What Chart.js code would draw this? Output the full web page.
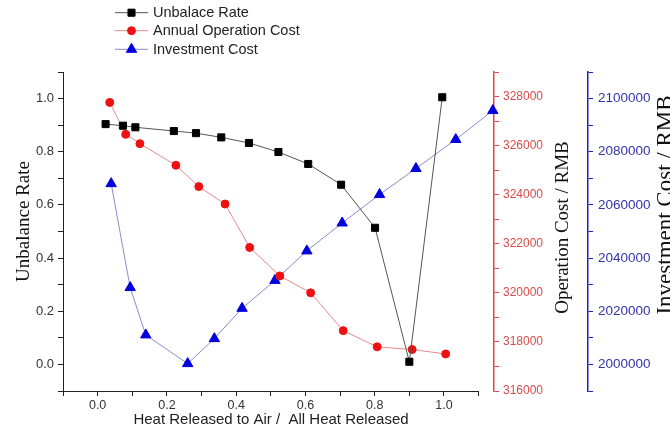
<!DOCTYPE html>
<html>
<head>
<meta charset="utf-8">
<script src="https://cdn.jsdelivr.net/npm/chart.js@4"></script>
<style>
  html, body { margin: 0; padding: 0; background: #fff; }
  #wrap { width: 670px; height: 441px; }
</style>
</head>
<body>
<div id="wrap"><canvas id="chart" width="670" height="441"></canvas></div>
<script>
// values
const unbalanceX = [0.023, 0.073, 0.109, 0.220, 0.284, 0.357, 0.437, 0.522, 0.608, 0.703, 0.801, 0.900, 0.995];
const unbalanceY = [0.904, 0.898, 0.892, 0.878, 0.870, 0.854, 0.833, 0.799, 0.754, 0.676, 0.514, 0.010, 1.005];

const opCostX = [0.035, 0.081, 0.122, 0.226, 0.292, 0.368, 0.439, 0.526, 0.615, 0.709, 0.807, 0.908, 1.005];
const opCostY = [327760, 326460, 326080, 325200, 324330, 323620, 321850, 320690, 320000, 318460, 317800, 317690, 317510];

const invCostX = [0.039, 0.094, 0.139, 0.260, 0.337, 0.417, 0.512, 0.604, 0.706, 0.814, 0.919, 1.034, 1.141];
const invCostY = [2068000, 2028900, 2011100, 2000300, 2009700, 2021100, 2031600, 2042700, 2053200, 2063900, 2073700, 2084600, 2095500];

const seriesNames = ['Unbalace Rate', 'Annual Operation Cost', 'Investment Cost'];
const xTitle = 'Heat Released to Air /  All Heat Released';
const yTitles = ['Unbalance Rate', 'Operation Cost / RMB', 'Investment Cost / RMB'];

const RED = '#e0474c';
const BLUE = '#1c1ccc';
const sans = "'Liberation Sans', Arial, sans-serif";
const serif = "'Liberation Serif', 'Times New Roman', serif";

const toPoints = (xs, ys) => xs.map((x, i) => ({ x: x, y: ys[i] }));

// only every other tick gets a label (Origin style minor ticks)
const tenthLabel = (v) => {
  const n = Math.round(v * 10);
  if (n < 0 || n > 10 || n % 2 !== 0) return '';
  return (n / 10).toFixed(1);
};

// legend + axis titles drawn by hand, Chart.js can't rotate right titles the other way
const annotations = {
  id: 'annotations',
  afterDraw(chart) {
    const ctx = chart.ctx;
    ctx.save();

    // x axis line, stops at 1.1 like the original
    const xs = chart.scales.x;
    ctx.strokeStyle = '#222';
    ctx.lineWidth = 1;
    ctx.beginPath();
    ctx.moveTo(chart.chartArea.left, chart.chartArea.bottom + 0.5);
    ctx.lineTo(xs.getPixelForValue(1.1), chart.chartArea.bottom + 0.5);
    ctx.stroke();

    // legend
    const rows = [12.7, 30.7, 49.3];
    chart.data.datasets.forEach((ds, i) => {
      const y = rows[i];
      ctx.strokeStyle = ds.borderColor;
      ctx.lineWidth = 1;
      ctx.beginPath();
      ctx.moveTo(115, y);
      ctx.lineTo(148, y);
      ctx.stroke();
      ctx.fillStyle = ds.pointBackgroundColor;
      ctx.strokeStyle = ds.pointBackgroundColor;
      Chart.helpers.drawPoint(ctx, { pointStyle: ds.pointStyle, radius: ds.pointRadius, rotation: 0, borderWidth: 1 }, 131.5, y);
      ctx.fillStyle = '#222';
      ctx.font = '14.5px ' + sans;
      ctx.textAlign = 'left';
      ctx.textBaseline = 'middle';
      ctx.fillText(ds.label, 153, y + 0.5);
    });

    // x title
    ctx.fillStyle = '#222';
    ctx.font = '15px ' + sans;
    ctx.textAlign = 'center';
    ctx.textBaseline = 'alphabetic';
    ctx.fillText(xTitle, 271, 424);

    // vertical titles, reading bottom to top
    const vt = [
      { text: yTitles[0], x: 29, y: 221.5, size: 19 },
      { text: yTitles[1], x: 568, y: 227.5, size: 19 },
      { text: yTitles[2], x: 672, y: 205, size: 23 }
    ];
    vt.forEach(t => {
      ctx.save();
      ctx.translate(t.x, t.y);
      ctx.rotate(-Math.PI / 2);
      ctx.fillStyle = '#111';
      ctx.font = t.size + 'px ' + serif;
      ctx.textAlign = 'center';
      ctx.textBaseline = 'alphabetic';
      ctx.fillText(t.text, 0, 0);
      ctx.restore();
    });

    ctx.restore();
  }
};

const ctx = document.getElementById('chart').getContext('2d');

const chart = new Chart(ctx, {
  type: 'line',
  data: {
    datasets: [{
      label: seriesNames[0],
      data: toPoints(unbalanceX, unbalanceY),
      yAxisID: 'y',
      borderColor: '#555555',
      borderWidth: 1,
      pointStyle: 'rect',
      pointRadius: 5,
      pointBackgroundColor: '#000000',
      pointBorderColor: '#000000',
      pointBorderWidth: 1,
      tension: 0
    }, {
      label: seriesNames[1],
      data: toPoints(opCostX, opCostY),
      yAxisID: 'y1',
      borderColor: '#e58a8a',
      borderWidth: 1,
      pointStyle: 'circle',
      pointRadius: 4,
      pointBackgroundColor: '#ee1111',
      pointBorderColor: '#ee1111',
      pointBorderWidth: 1,
      tension: 0
    }, {
      label: seriesNames[2],
      data: toPoints(invCostX, invCostY),
      yAxisID: 'y2',
      borderColor: '#8a8acc',
      borderWidth: 1,
      pointStyle: 'triangle',
      pointRadius: 6,
      pointBackgroundColor: '#0000dd',
      pointBorderColor: '#0000dd',
      pointBorderWidth: 1,
      tension: 0,
      clip: false
    }]
  },
  options: {
    responsive: false,
    animation: false,
    layout: { padding: { top: 72, left: 0, right: 0, bottom: 0 } },
    plugins: {
      legend: { display: false },
      tooltip: { enabled: false }
    },
    scales: {
      x: {
        type: 'linear',
        position: 'bottom',
        min: -0.1,
        max: 1.1444,
        border: { display: false },
        grid: { drawOnChartArea: false, drawTicks: true, tickLength: 5, color: '#222' },
        ticks: {
          stepSize: 0.1,
          includeBounds: false,
          autoSkip: false,
          maxRotation: 0,
          padding: 2,
          color: '#333',
          font: { family: sans, size: 12.5 },
          callback: (v) => tenthLabel(v)
        },
        afterFit: (s) => { s.height = 50; }
      },
      y: {
        type: 'linear',
        position: 'left',
        min: -0.1,
        max: 1.1,
        border: { display: true, color: '#222', width: 1 },
        grid: { drawOnChartArea: false, drawTicks: true, tickLength: 5, color: '#222' },
        ticks: {
          stepSize: 0.1,
          includeBounds: false,
          autoSkip: false,
          padding: 4,
          color: '#333',
          font: { family: sans, size: 13 },
          callback: (v) => tenthLabel(v)
        },
        afterFit: (s) => { s.width = 63; }
      },
      y1: {
        type: 'linear',
        position: 'right',
        weight: 0,
        min: 316000,
        max: 329000,
        border: { display: true, color: RED, width: 1.5 },
        grid: { drawOnChartArea: false, drawTicks: true, tickLength: 5, color: RED },
        ticks: {
          stepSize: 1000,
          includeBounds: false,
          autoSkip: false,
          padding: 4,
          color: '#d84a4a',
          font: { family: sans, size: 12 },
          callback: (v) => (v % 2000 === 0 && v <= 328000 ? String(v) : '')
        },
        afterFit: (s) => { s.width = 94; }
      },
      y2: {
        type: 'linear',
        position: 'right',
        weight: 1,
        min: 1990000,
        max: 2110000,
        border: { display: true, color: BLUE, width: 1.5 },
        grid: { drawOnChartArea: false, drawTicks: true, tickLength: 5, color: BLUE },
        ticks: {
          stepSize: 10000,
          includeBounds: false,
          autoSkip: false,
          padding: 5,
          color: '#3333aa',
          font: { family: sans, size: 13.5 },
          callback: (v) => (v % 20000 === 0 && v >= 2000000 && v <= 2100000 ? String(v) : '')
        },
        afterFit: (s) => { s.width = 82; }
      }
    }
  },
  plugins: [annotations]
});
</script>
</body>
</html>
